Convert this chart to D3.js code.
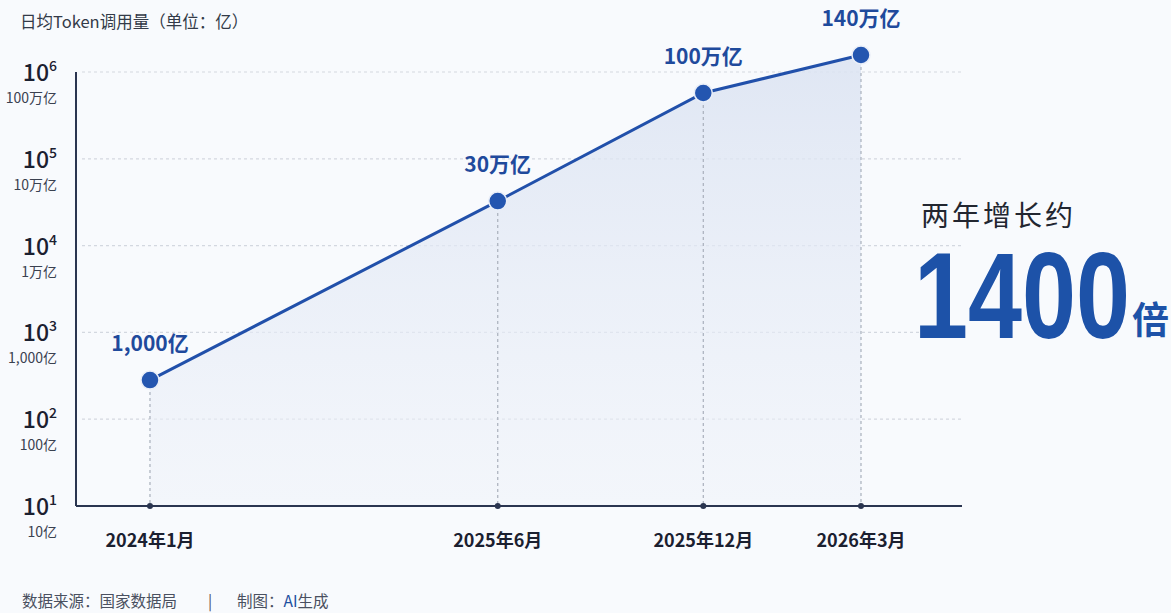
<!DOCTYPE html>
<html>
<head>
<meta charset="utf-8">
<script src="https://cdn.jsdelivr.net/npm/d3@7"></script>
<style>
  body { margin: 0; background: #f8fafd; }
  svg { display: block; font-family: "Noto Sans CJK SC", "Noto Sans", sans-serif; }
</style>
</head>
<body>
<div id="chart"></div>
<script>
// data
const months = ["2024-01", "2025-06", "2025-12", "2026-03"];
const monthLabels = ["2024年1月", "2025年6月", "2025年12月", "2026年3月"];
const tokenValues = [282, 32600, 573000, 1570000];   // as plotted, in 亿
const valueLabels = ["1,000亿", "30万亿", "100万亿", "140万亿"];
const yTicks = [10, 100, 1000, 10000, 100000, 1000000];
const yExponents = ["1", "2", "3", "4", "5", "6"];
const yUnitLabels = ["10亿", "100亿", "1,000亿", "1万亿", "10万亿", "100万亿"];

const width = 1171, height = 613;
const margin = {top: 72, right: 209, bottom: 107, left: 76};
const plotW = width - margin.left - margin.right;
const plotH = height - margin.top - margin.bottom;

const parseMonth = d3.timeParse("%Y-%m");
const dates = months.map(parseMonth);

let svg = d3.select("#chart")
    .append("svg")
    .attr("width", width)
    .attr("height", height);

svg.append("rect")
    .attr("width", width)
    .attr("height", height)
    .attr("fill", "#f8fafd");

let defs = svg.append("defs");
let grad = defs.append("linearGradient")
    .attr("id", "areaFill")
    .attr("x1", 0).attr("y1", 0).attr("x2", 0).attr("y2", 1);
grad.append("stop").attr("offset", "0%").attr("stop-color", "#dbe3f2").attr("stop-opacity", 0.85);
grad.append("stop").attr("offset", "100%").attr("stop-color", "#eef2f9").attr("stop-opacity", 0.5);

let g = svg.append("g")
    .attr("transform", `translate(${margin.left}, ${margin.top})`);

// piecewise time scale (the reference spaces the months unevenly)
let x = d3.scaleTime()
    .domain(dates)
    .range([0.0835, 0.476, 0.708, 0.886].map(function(f) { return f * plotW; }));

let y = d3.scaleLog()
    .domain([10, 1000000])
    .range([plotH, 0]);

// horizontal grid
g.append("g")
    .selectAll("line")
    .data(yTicks.slice(1))
    .enter()
    .append("line")
    .attr("x1", 6)
    .attr("x2", plotW)
    .attr("y1", function(d) { return y(d); })
    .attr("y2", function(d) { return y(d); })
    .attr("stroke", "#d3d8e0")
    .attr("stroke-width", 1.2)
    .attr("stroke-dasharray", "3,3");

// area under line
let area = d3.area()
    .x(function(d, i) { return x(dates[i]); })
    .y0(plotH)
    .y1(function(d) { return y(d); });

g.append("path")
    .datum(tokenValues)
    .attr("d", area)
    .attr("fill", "url(#areaFill)");

// vertical drop lines
g.append("g")
    .selectAll("line")
    .data(tokenValues)
    .enter()
    .append("line")
    .attr("x1", function(d, i) { return x(dates[i]); })
    .attr("x2", function(d, i) { return x(dates[i]); })
    .attr("y1", function(d) { return y(d) + 12; })
    .attr("y2", plotH)
    .attr("stroke", "#a9b0bc")
    .attr("stroke-width", 1.2)
    .attr("stroke-dasharray", "3,3");

// axes lines
g.append("line")
    .attr("x1", 0).attr("x2", 0)
    .attr("y1", 0).attr("y2", plotH)
    .attr("stroke", "#2a3550")
    .attr("stroke-width", 2);

g.append("line")
    .attr("x1", 0).attr("x2", plotW)
    .attr("y1", plotH).attr("y2", plotH)
    .attr("stroke", "#2a3550")
    .attr("stroke-width", 2);

// tick dots on x axis
g.append("g")
    .selectAll("circle")
    .data(dates)
    .enter()
    .append("circle")
    .attr("cx", function(d) { return x(d); })
    .attr("cy", plotH)
    .attr("r", 3)
    .attr("fill", "#2a3550");

// x labels
g.append("g")
    .selectAll("text")
    .data(monthLabels)
    .enter()
    .append("text")
    .attr("x", function(d, i) { return x(dates[i]); })
    .attr("y", plotH + 41)
    .attr("text-anchor", "middle")
    .attr("font-size", 18)
    .attr("font-weight", "bold")
    .attr("fill", "#1b2030")
    .text(function(d) { return d; });

// y labels: 10^n plus unit
let yLab = g.append("g")
    .selectAll("g")
    .data(yTicks)
    .enter()
    .append("g")
    .attr("transform", function(d) { return `translate(-19, ${y(d)})`; });

let powText = yLab.append("text")
    .attr("y", 9)
    .attr("text-anchor", "end")
    .attr("fill", "#1b2030")
    .attr("font-size", 23)
    .attr("font-weight", 500);
powText.append("tspan").text("10");
powText.append("tspan")
    .attr("dy", -10)
    .attr("font-size", 14)
    .text(function(d, i) { return yExponents[i]; });

yLab.append("text")
    .attr("y", 31)
    .attr("text-anchor", "end")
    .attr("fill", "#3a4150")
    .attr("font-size", 14)
    .text(function(d, i) { return yUnitLabels[i]; });

// line
let line = d3.line()
    .x(function(d, i) { return x(dates[i]); })
    .y(function(d) { return y(d); });

g.append("path")
    .datum(tokenValues)
    .attr("d", line)
    .attr("fill", "none")
    .attr("stroke", "#2150aa")
    .attr("stroke-width", 3);

g.append("g")
    .selectAll("circle")
    .data(tokenValues)
    .enter()
    .append("circle")
    .attr("cx", function(d, i) { return x(dates[i]); })
    .attr("cy", function(d) { return y(d); })
    .attr("r", 9)
    .attr("fill", "#2456b0")
    .attr("stroke", "#e9eef8")
    .attr("stroke-width", 1.5);

// value labels
g.append("g")
    .selectAll("text")
    .data(tokenValues)
    .enter()
    .append("text")
    .attr("x", function(d, i) { return x(dates[i]); })
    .attr("y", function(d) { return y(d) - 29; })
    .attr("text-anchor", "middle")
    .attr("font-size", 21)
    .attr("font-weight", "bold")
    .attr("fill", "#1f4a9c")
    .text(function(d, i) { return valueLabels[i]; });

// title
svg.append("text")
    .attr("x", 20)
    .attr("y", 28)
    .attr("font-size", 16.5)
    .attr("fill", "#333a48")
    .text("日均Token调用量（单位：亿）");

// right callout
svg.append("text")
    .attr("x", 921)
    .attr("y", 226)
    .attr("font-size", 28)
    .attr("letter-spacing", 3)
    .attr("fill", "#222630")
    .text("两年增长约");

svg.append("text")
    .attr("x", 914)
    .attr("y", 338)
    .attr("font-family", "'Liberation Sans', Arial, sans-serif")
    .attr("font-size", 122)
    .attr("font-weight", "bold")
    .attr("textLength", 216)
    .attr("lengthAdjust", "spacingAndGlyphs")
    .attr("fill", "#1d52a8")
    .text("1400");

svg.append("text")
    .attr("x", 1132)
    .attr("y", 334)
    .attr("font-size", 37)
    .attr("font-weight", "bold")
    .attr("fill", "#1d52a8")
    .text("倍");

// footer
let foot = svg.append("text")
    .attr("x", 22)
    .attr("y", 607)
    .attr("font-size", 15.5)
    .attr("fill", "#4a5060");
foot.append("tspan").text("数据来源：国家数据局");
foot.append("tspan").attr("x", 208).text("|");
foot.append("tspan").attr("x", 237).text("制图：");
foot.append("tspan").attr("fill", "#1d4fa0").text("AI");
foot.append("tspan").text("生成");
</script>
</body>
</html>
